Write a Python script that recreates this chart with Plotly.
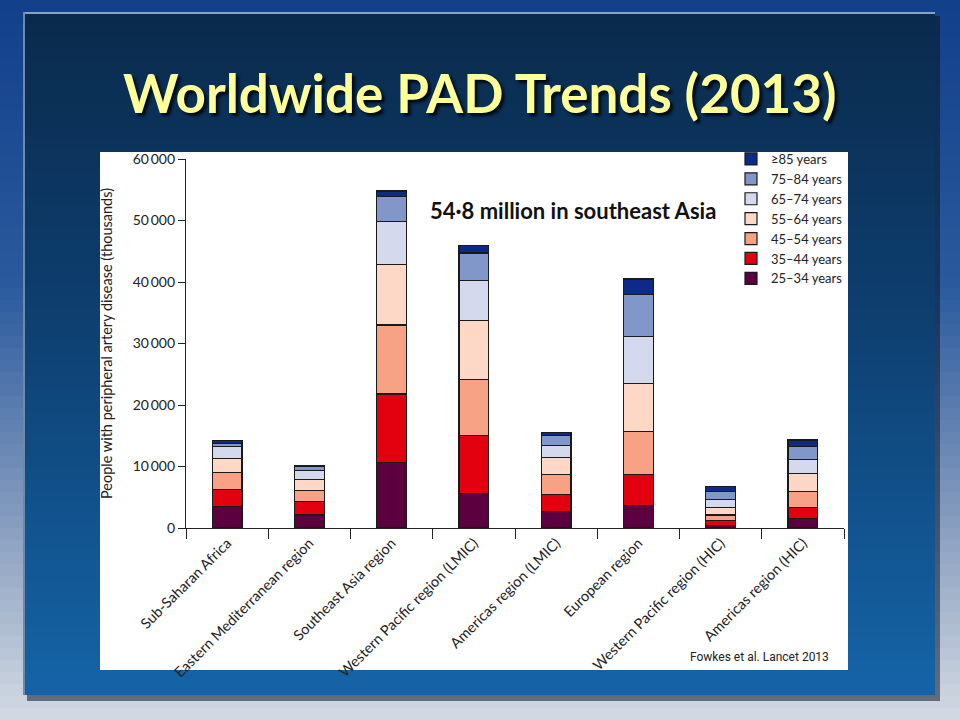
import plotly.graph_objects as go

regions = ["Sub-Saharan Africa", "Eastern Mediterranean region", "Southeast Asia region",
           "Western Pacific region (LMIC)", "Americas region (LMIC)", "European region",
           "Western Pacific region (HIC)", "Americas region (HIC)"]

age_groups = ["25–34 years", "35–44 years", "45–54 years", "55–64 years",
              "65–74 years", "75–84 years", "≥85 years"]

# thousands of people, per region (same order as regions)
age_25_34 = [3500, 2100, 10600, 5600, 2700, 3600, 450, 1500]
age_35_44 = [2800, 2200, 11200, 9400, 2800, 5100, 750, 1800]
age_45_54 = [2700, 1800, 11200, 9200, 3200, 7000, 900, 2600]
age_55_64 = [2300, 1800, 9800, 9500, 2700, 7800, 1200, 2900]
age_65_74 = [1900, 1400, 7100, 6600, 2000, 7600, 1400, 2400]
age_75_84 = [600, 700, 4000, 4400, 1600, 6900, 1300, 2000]
age_85_up = [400, 200, 900, 1200, 500, 2500, 700, 1100]

series = [age_25_34, age_35_44, age_45_54, age_55_64, age_65_74, age_75_84, age_85_up]
colors = ["#5c0040", "#e3000f", "#f7a284", "#fdd8c6", "#d4d9ee", "#8196c9", "#0d2a88"]

ytick_vals = [0, 10000, 20000, 30000, 40000, 50000, 60000]
ytick_text = ["0", "10\u2009000", "20\u2009000", "30\u2009000", "40\u2009000", "50\u2009000", "60\u2009000"]

fig = go.Figure()
for name, vals, col in zip(age_groups, series, colors):
    fig.add_trace(go.Bar(x=regions, y=vals, name=name, width=0.36,
                         marker=dict(color=col, line=dict(color="#1a1a1a", width=1.2))))

W, H = 960, 720
L, R, T, B = 186, 844, 159, 528


def hex2rgb(h):
    h = h.lstrip("#")
    return [int(h[i:i + 2], 16) for i in (0, 2, 4)]


def grad(stops, t):
    for i in range(len(stops) - 1):
        t0, c0 = stops[i]
        t1, c1 = stops[i + 1]
        if t0 <= t <= t1:
            f = (t - t0) / (t1 - t0) if t1 > t0 else 0
            a, b = hex2rgb(c0), hex2rgb(c1)
            return "rgb(%d,%d,%d)" % tuple(round(a[k] + (b[k] - a[k]) * f) for k in range(3))
    return stops[-1][1]


def ax_x(x):
    return (x - L) / (R - L)


def ax_y(y):
    return (B - y) / (B - T)


def rect(x0, y0, x1, y1, color):
    return dict(type="rect", xref="paper", yref="paper", layer="below",
                x0=ax_x(x0), x1=ax_x(x1), y0=ax_y(y1), y1=ax_y(y0),
                fillcolor=color, line=dict(width=0))


shapes = []
# outer slide background gradient
outer_stops = [(0, "#123f8a"), (0.4, "#2b5a9e"), (0.75, "#8ea2c2"), (1.0, "#d3dae3")]
n = 60
for i in range(n):
    y0 = H * i / n
    y1 = H * (i + 1) / n + 0.6
    shapes.append(rect(-2, y0, W + 2, y1, grad(outer_stops, (i + 0.5) / n)))
# panel shadow
shapes.append(rect(27, 16, 940, 701, "rgba(10,20,40,0.55)"))
# inner panel gradient
panel_stops = [(0, "#0a2a4c"), (0.45, "#0e3f70"), (1.0, "#1564a7")]
px0, px1, py0, py1 = 23, 935, 12, 695
m = 60
for i in range(m):
    y0 = py0 + (py1 - py0) * i / m
    y1 = min(py0 + (py1 - py0) * (i + 1) / m + 0.6, py1)
    shapes.append(rect(px0, y0, px1, y1, grad(panel_stops, (i + 0.5) / m)))
# panel highlight edges
shapes.append(dict(type="line", xref="paper", yref="paper", layer="below",
                   x0=ax_x(px0), x1=ax_x(px1), y0=ax_y(py0 + 1), y1=ax_y(py0 + 1),
                   line=dict(color="#8aa2bd", width=2)))
shapes.append(dict(type="line", xref="paper", yref="paper", layer="below",
                   x0=ax_x(px0 + 1), x1=ax_x(px0 + 1), y0=ax_y(py1), y1=ax_y(py0),
                   line=dict(color="#6f8aa8", width=2)))
# white chart area
shapes.append(rect(100, 152, 848, 670, "white"))

fig.update_layout(shapes=shapes)

fig.add_annotation(text="Worldwide PAD Trends (2013)", xref="paper", yref="paper",
                   x=ax_x(480), y=ax_y(92), showarrow=False, xanchor="center", yanchor="middle",
                   font=dict(family="Lato, Open Sans, sans-serif", size=53, color="#ffff99",
                             weight="bold", shadow="3px 3px 3px rgba(0,0,0,0.8)"))
fig.add_annotation(text="54·8 million in southeast Asia", xref="paper", yref="paper",
                   x=ax_x(573), y=ax_y(210), showarrow=False, xanchor="center", yanchor="middle",
                   font=dict(family="Lato, Open Sans, sans-serif", size=22, color="#111111",
                             weight="bold"))
fig.add_annotation(text="Fowkes et al. Lancet 2013", xref="paper", yref="paper",
                   x=ax_x(831), y=ax_y(657), showarrow=False, xanchor="right", yanchor="middle",
                   font=dict(family="Liberation Sans Narrow, Roboto, sans-serif", size=12,
                             color="#222222"))

fig.update_layout(
    width=W, height=H,
    margin=dict(l=L, r=W - R, t=T, b=H - B, pad=0),
    barmode="stack",
    paper_bgcolor="#1a4a90",
    plot_bgcolor="rgba(0,0,0,0)",
    font=dict(family="Lato, Open Sans, sans-serif", color="#222222"),
    showlegend=True,
    legend=dict(x=ax_x(731), y=ax_y(144), xanchor="left", yanchor="top",
                traceorder="reversed", bgcolor="rgba(0,0,0,0)",
                font=dict(size=13, color="#222222"), tracegroupgap=0,
                itemwidth=30),
    xaxis=dict(type="category", range=[-0.5, 7.5], tickson="boundaries",
               ticks="outside", ticklen=10, tickcolor="#222", tickwidth=1,
               showline=True, linecolor="#222", linewidth=1.2, showgrid=False,
               tickangle=-45, tickfont=dict(size=14.5, color="#222222"),
               fixedrange=True),
    yaxis=dict(range=[0, 60000], tickvals=ytick_vals, ticktext=ytick_text,
               ticks="outside", ticklen=7, tickcolor="#222", tickwidth=1,
               showline=True, linecolor="#222", linewidth=1.2, showgrid=False,
               zeroline=False, tickfont=dict(size=14, color="#222222"),
               title=dict(text="People with peripheral artery disease (thousands)",
                          font=dict(size=14.5, color="#222222"), standoff=16),
               fixedrange=True),
)

fig.write_html("out.html", config={"displayModeBar": False},
               post_script="document.body.style.margin='0';")
